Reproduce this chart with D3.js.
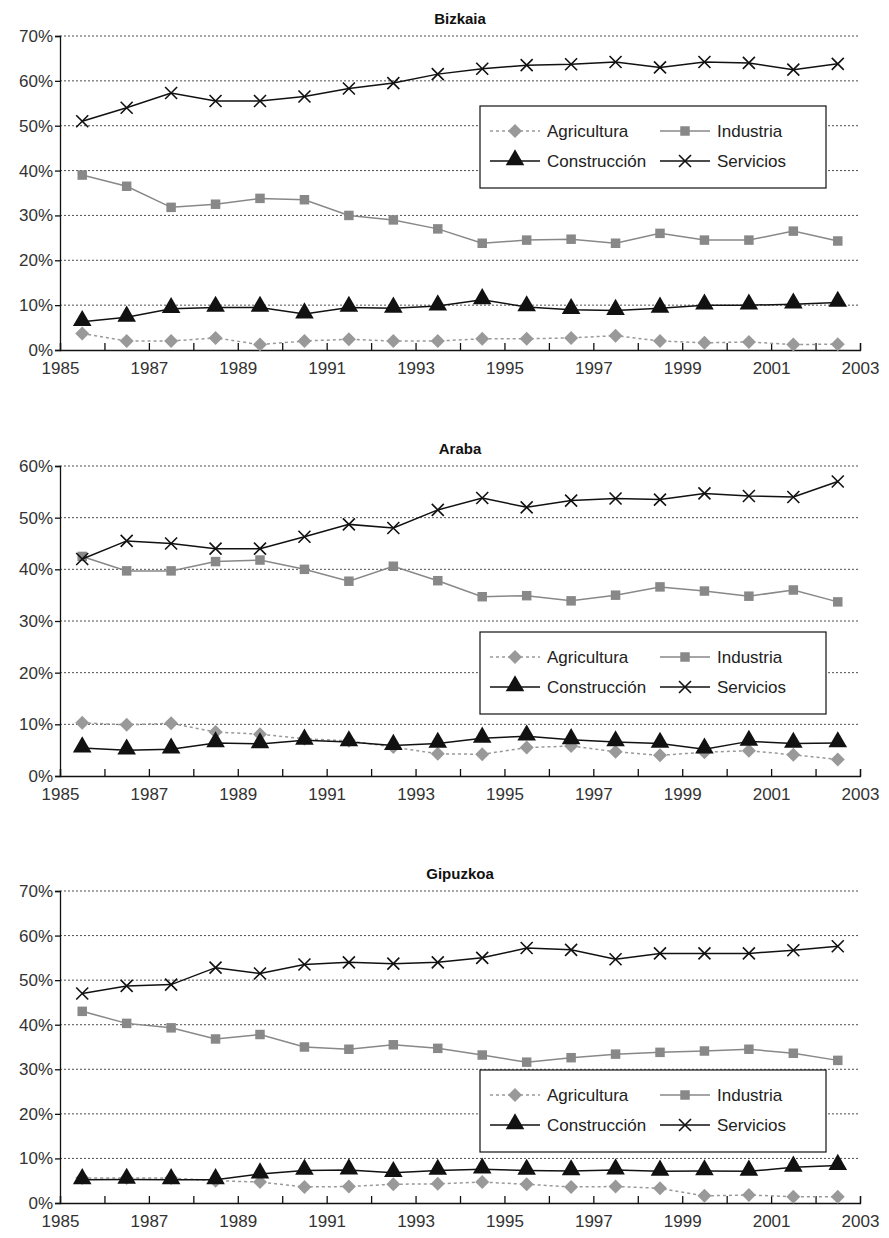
<!DOCTYPE html>
<html><head><meta charset="utf-8">
<script src="https://cdn.jsdelivr.net/npm/d3@7"></script>
<style>body{margin:0;background:#fff;font-family:"Liberation Sans",Arial,sans-serif}
.tick text{font-size:17px;font-family:"Liberation Sans",Arial,sans-serif}</style>
</head><body><svg id="c" width="889" height="1238"></svg>
<script>
var years = d3.range(1985.5, 2003, 1);
var seriesNames = ["Agricultura", "Industria", "Construcción", "Servicios"];

var bizAgri = [3.7, 2, 2, 2.7, 1.2, 2, 2.4, 2, 2, 2.5, 2.5, 2.7, 3.2, 2, 1.6, 1.8, 1.2, 1.3];
var bizInd = [39, 36.5, 31.8, 32.5, 33.8, 33.5, 30, 29, 27, 23.8, 24.5, 24.7, 23.8, 26, 24.5, 24.5, 26.5, 24.3];
var bizCons = [6.3, 7.3, 9.2, 9.5, 9.5, 8, 9.5, 9.3, 9.8, 11.2, 9.6, 9, 8.8, 9.3, 10, 10, 10.2, 10.6];
var bizServ = [51, 54, 57.3, 55.5, 55.5, 56.5, 58.3, 59.5, 61.5, 62.7, 63.5, 63.7, 64.2, 63, 64.2, 64, 62.5, 63.8];

var araAgri = [10.3, 9.9, 10.2, 8.5, 8.1, 7.2, 6.8, 5.6, 4.3, 4.2, 5.5, 5.8, 4.7, 4, 4.6, 4.9, 4.1, 3.2];
var araInd = [42.5, 39.7, 39.7, 41.5, 41.8, 40, 37.7, 40.6, 37.8, 34.7, 34.9, 33.9, 35, 36.6, 35.8, 34.8, 36, 33.7];
var araCons = [5.4, 5, 5.2, 6.4, 6.2, 6.9, 6.6, 5.9, 6.3, 7.3, 7.7, 7, 6.6, 6.3, 5.2, 6.7, 6.3, 6.4];
var araServ = [42, 45.5, 45, 44, 44, 46.3, 48.7, 48, 51.5, 53.8, 52, 53.3, 53.7, 53.5, 54.7, 54.2, 54, 57];

var gipAgri = [5.6, 5.6, 5.6, 5, 4.7, 3.6, 3.7, 4.2, 4.3, 4.7, 4.2, 3.6, 3.7, 3.3, 1.6, 1.8, 1.4, 1.4];
var gipInd = [43, 40.3, 39.3, 36.8, 37.8, 35, 34.5, 35.5, 34.7, 33.2, 31.6, 32.6, 33.4, 33.8, 34.1, 34.5, 33.6, 32];
var gipCons = [5.2, 5.3, 5.2, 5.2, 6.5, 7.3, 7.4, 6.8, 7.3, 7.6, 7.3, 7.2, 7.4, 7.1, 7.2, 7.1, 8, 8.4];
var gipServ = [47, 48.7, 49, 52.8, 51.5, 53.5, 54, 53.7, 54, 55, 57.2, 56.8, 54.7, 56, 56, 56, 56.7, 57.6];

var panels = [
  {title: "Bizkaia", top: 36, bottom: 350, ymax: 70, data: [bizAgri, bizInd, bizCons, bizServ], legendY: 106},
  {title: "Araba", top: 466, bottom: 776, ymax: 60, data: [araAgri, araInd, araCons, araServ], legendY: 632},
  {title: "Gipuzkoa", top: 891, bottom: 1203, ymax: 70, data: [gipAgri, gipInd, gipCons, gipServ], legendY: 1070}
];

var svg = d3.select("#c");
var x = d3.scaleLinear().domain([1985, 2003]).range([60, 860]);
var styles = [
  {stroke: "#999", dash: "3,3", sym: "d", fill: "#999", w: 1.5},
  {stroke: "#888", dash: null, sym: d3.symbolSquare, size: 90, fill: "#888", w: 1.5},
  {stroke: "#111", dash: null, sym: d3.symbolTriangle, size: 150, fill: "#111", w: 1.5},
  {stroke: "#111", dash: null, sym: "x", fill: "none", w: 1.5}
];

function marker(g, s, cx, cy) {
  if (s.sym === "x") {
    g.append("path").attr("d", "M" + (cx - 6) + "," + (cy - 6) + "L" + (cx + 6) + "," + (cy + 6) + "M" + (cx - 6) + "," + (cy + 6) + "L" + (cx + 6) + "," + (cy - 6))
      .attr("stroke", s.stroke).attr("stroke-width", 1.6);
  } else if (s.sym === "d") {
    g.append("path").attr("d", "M" + cx + "," + (cy - 7) + "L" + (cx + 7) + "," + cy + "L" + cx + "," + (cy + 7) + "L" + (cx - 7) + "," + cy + "Z")
      .attr("fill", s.fill);
  } else {
    g.append("path").attr("d", d3.symbol().type(s.sym).size(s.size)())
      .attr("transform", "translate(" + cx + "," + (s.sym === d3.symbolTriangle ? cy - 1 : cy) + ")").attr("fill", s.fill);
  }
}

panels.forEach(function(p) {
  var y = d3.scaleLinear().domain([0, p.ymax]).range([p.bottom, p.top]);
  var g = svg.append("g");
  g.append("text").attr("x", 460).attr("y", p.top - 12).attr("text-anchor", "middle")
    .attr("font-size", 15).attr("font-weight", "bold").attr("fill", "#111").text(p.title);
  d3.range(10, p.ymax + 1, 10).forEach(function(v) {
    g.append("line").attr("x1", 60).attr("x2", 860).attr("y1", y(v)).attr("y2", y(v))
      .attr("stroke", "#222").attr("stroke-dasharray", "2,2").attr("stroke-width", 0.8);
  });
  var ya = g.append("g").attr("transform", "translate(60,0)")
    .call(d3.axisLeft(y).tickValues(d3.range(0, p.ymax + 1, 10)).tickSize(5).tickFormat(function(d) { return d + "%"; }));
  ya.selectAll("text").attr("fill", "#333").attr("x", -7);
  var xa = g.append("g").attr("transform", "translate(0," + p.bottom + ")")
    .call(d3.axisBottom(x).tickValues(d3.range(1985, 2004, 1)).tickSize(-7).tickFormat(function(d) { return d % 2 ? d : ""; }));
  xa.selectAll("text").attr("fill", "#333").attr("y", 12);
  g.selectAll(".domain, .tick line").attr("stroke", "#111").attr("stroke-width", 1.3);

  p.data.forEach(function(vals, i) {
    var s = styles[i];
    g.append("path").datum(vals)
      .attr("d", d3.line().x(function(d, j) { return x(years[j]); }).y(function(d) { return y(d); }))
      .attr("fill", "none").attr("stroke", s.stroke).attr("stroke-width", s.w).attr("stroke-dasharray", s.dash);
    vals.forEach(function(v, j) { marker(g, s, x(years[j]), y(v)); });
  });

  var lg = g.append("g").attr("transform", "translate(480," + p.legendY + ")");
  lg.append("rect").attr("width", 346).attr("height", 82).attr("fill", "#fff").attr("stroke", "#111").attr("stroke-width", 1.2);
  seriesNames.forEach(function(n, i) {
    var s = styles[i];
    var lx = i % 2 ? 180 : 10, ly = i < 2 ? 25 : 55;
    lg.append("line").attr("x1", lx).attr("x2", lx + 50).attr("y1", ly).attr("y2", ly)
      .attr("stroke", s.stroke).attr("stroke-width", s.w).attr("stroke-dasharray", s.dash);
    marker(lg, s, lx + 25, ly);
    lg.append("text").attr("x", lx + 57).attr("y", ly + 6).attr("font-size", 17).attr("fill", "#222").text(n);
  });
});
</script></body></html>
